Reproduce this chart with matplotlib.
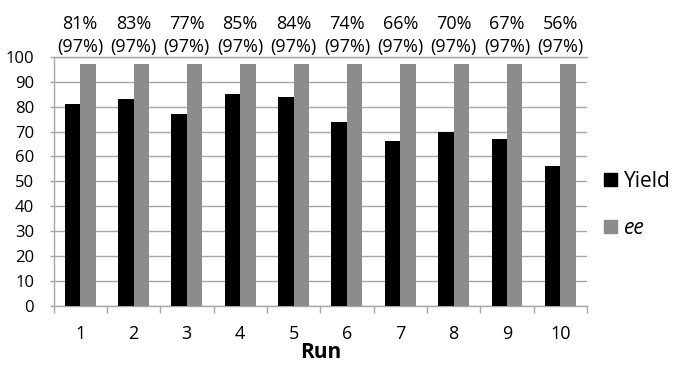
import matplotlib
matplotlib.use("Agg")
import matplotlib.pyplot as plt
import numpy as np
from matplotlib.patches import Rectangle

runs = ["1", "2", "3", "4", "5", "6", "7", "8", "9", "10"]
yield_vals = [81, 83, 77, 85, 84, 74, 66, 70, 67, 56]
ee_vals = [97, 97, 97, 97, 97, 97, 97, 97, 97, 97]
yticks = [0, 10, 20, 30, 40, 50, 60, 70, 80, 90, 100]

plt.rcParams['font.family'] = ['Open Sans', 'DejaVu Sans']

fig = plt.figure(figsize=(6.75, 3.65), dpi=100)
W, H = 675, 365
ax = fig.add_axes([53.5 / W, 1 - 305.5 / H, (587 - 53.5) / W, (305.5 - 57) / H])

x = np.arange(len(runs))
bw = 0.29
ax.bar(x - bw / 2, yield_vals, bw, color='black', label='Yield', zorder=3)
ax.bar(x + bw / 2, ee_vals, bw, color='#8c8c8c', label='ee', zorder=3)

ax.set_xlim(-0.5, len(runs) - 0.5)
ax.set_ylim(0, 100)
ax.set_yticks(yticks)
ax.tick_params(axis='y', labelsize=12, length=3, color='#a6a6a6', width=1, pad=11)
ax.set_xticks(x)
ax.set_xticklabels(runs)
ax.tick_params(axis='x', which='major', length=0, labelsize=13, pad=14)
ax.set_xticks(np.arange(-0.5, len(runs)), minor=True)
ax.tick_params(axis='x', which='minor', length=5, color='#a6a6a6', width=1)
ax.grid(axis='y', color='#a6a6a6', linewidth=1, zorder=0)
ax.spines['right'].set_visible(False)
for s in ['left', 'bottom', 'top']:
    ax.spines[s].set_color('#a6a6a6')
    ax.spines[s].set_linewidth(1)

ax.set_xlabel('Run', fontsize=15, fontweight='bold', labelpad=0)
ax.xaxis.set_label_coords(0.5, -0.145)

for i, (yv, ev) in enumerate(zip(yield_vals, ee_vals)):
    ax.annotate(f"{yv}%\n({ev}%)", xy=(i, 100), xytext=(0, 1), textcoords='offset points',
                ha='center', va='bottom', fontsize=13, linespacing=1.35)

leg = fig.legend(handles=[Rectangle((0, 0), 1, 1, color='black'), Rectangle((0, 0), 1, 1, color='#8c8c8c')],
                 labels=['Yield', 'ee'], loc='center left', bbox_to_anchor=(604 / W, 1 - 205 / H),
                 frameon=False, fontsize=15, handlelength=0.6, handleheight=0.6, handletextpad=0.35,
                 labelspacing=1.25, borderpad=0, borderaxespad=0)
leg.get_texts()[1].set_fontstyle('italic')

fig.savefig('out.png', dpi=100)
